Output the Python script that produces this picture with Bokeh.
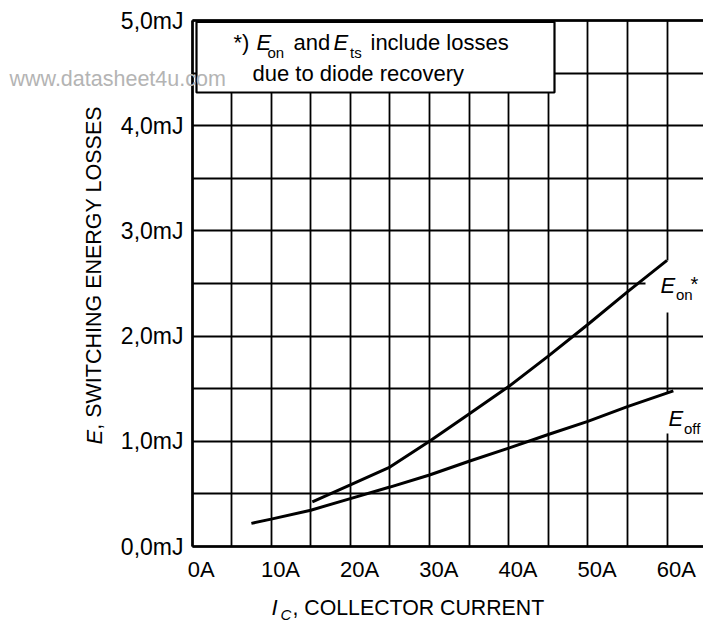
from math import pi
from bokeh.plotting import figure
from bokeh.models import Range1d, FixedTicker, Grid, Label, LabelSet, ColumnDataSource
from bokeh.core.properties import value
from bokeh.embed import file_html
from bokeh.resources import INLINE

# ---------------- data ----------------
X_TICKS = [0, 10, 20, 30, 40, 50, 60]
X_LABELS = ["0A", "10A", "20A", "30A", "40A", "50A", "60A"]
X_GRID = [0, 5, 10, 15, 20, 25, 30, 35, 40, 45, 50, 55, 60]
Y_TICKS = [0, 1, 2, 3, 4, 5]
Y_LABELS = ["0,0mJ", "1,0mJ", "2,0mJ", "3,0mJ", "4,0mJ", "5,0mJ"]
Y_GRID = [0, 0.5, 1, 1.5, 2, 2.5, 3, 3.5, 4, 4.5, 5]

EOFF_I = [7.5, 10, 15, 20, 25, 30, 35, 40, 45, 50, 55, 60.8]
EOFF_E = [0.22, 0.26, 0.345, 0.455, 0.565, 0.68, 0.81, 0.935, 1.065, 1.19, 1.33, 1.48]
EON_I = [15.2, 20, 25, 30, 35, 40, 45, 50, 55, 60]
EON_E = [0.425, 0.585, 0.755, 1.0, 1.26, 1.52, 1.81, 2.11, 2.42, 2.72]

# ---------------- layout ----------------
FONT = "Liberation Sans"
W, H = 703, 623
PX0, PX60 = 191.5, 666.5      # page x of 0 A and 60 A
PY0, PY5 = 546.0, 20.0        # page y of 0 mJ and 5 mJ
SX = (PX60 - PX0) / 60.0
SY = (PY0 - PY5) / 5.0
XS, XE = -PX0 / SX, (W - PX0) / SX
YS, YE = -(H - PY0) / SY, 5.0 + PY5 / SY
MID = 0.358                   # cap-centre height above baseline, in em


def X(px):
    return (px - PX0) / SX


def Y(py):
    return (PY0 - py) / SY


p = figure(width=W, height=H, x_range=Range1d(XS, XE), y_range=Range1d(YS, YE),
           x_axis_location=None, y_axis_location=None,
           output_backend="svg", toolbar_location=None,
           min_border_left=0, min_border_right=0, min_border_top=0, min_border_bottom=0)
p.outline_line_color = None
p.background_fill_color = "white"
p.border_fill_color = "white"
for g in p.grid:
    g.visible = False


def add_grid(dim, ticks, cross, width):
    p.add_layout(Grid(dimension=dim, ticker=FixedTicker(ticks=ticks), cross_bounds=cross,
                      grid_line_color="black", grid_line_width=width, grid_line_alpha=1.0))


# grid lines
add_grid(0, X_GRID, (0, 5), 1.8)
add_grid(1, Y_GRID, (0, XE), 1.8)
# frame borders (left, bottom, top)
add_grid(0, [0], (0, 5), 2.6)
add_grid(1, [0, 5], (0, XE), 2.6)

# tick labels
xsrc = ColumnDataSource(dict(x=X_TICKS, y=[0] * len(X_TICKS), text=X_LABELS))
p.add_layout(LabelSet(x="x", y="y", text="text", source=xsrc, x_offset=9.3,
                      y_offset=-(577 - MID * 22 - PY0),
                      text_align="center", text_baseline="middle",
                      text_font=value(FONT), text_font_size=value("22px"), text_color="black"))
ysrc = ColumnDataSource(dict(x=[0] * len(Y_TICKS), y=Y_TICKS, text=Y_LABELS))
p.add_layout(LabelSet(x="x", y="y", text="text", source=ysrc, x_offset=-8.5, y_offset=0,
                      text_align="right", text_baseline="middle",
                      text_font=value(FONT), text_font_size=value("23px"), text_color="black"))

# white boxes (note box and behind curve labels)
p.quad(left=[X(196)], right=[X(554)], top=[Y(21.5)], bottom=[Y(92)],
       fill_color="white", line_color="black", line_width=2.2)
p.quad(left=[X(645), X(650)], right=[XE, XE], top=[Y(260), Y(392)], bottom=[Y(312), Y(433)],
       fill_color="white", line_color=None)

# curves
p.line(EOFF_I, EOFF_E, line_width=3, line_color="black")
p.line(EON_I, EON_E, line_width=3, line_color="black")


def lab(text, px, py, size, italic=False, rotated=False, color="black"):
    """px, py: start of the text on its baseline, in page pixels."""
    if rotated:
        x, y, ang = X(px - MID * size), Y(py), pi / 2
    else:
        x, y, ang = X(px), Y(py - MID * size), 0.0
    p.add_layout(Label(x=x, y=y, text=text, text_font=FONT,
                       text_font_size=f"{size}px",
                       text_font_style="italic" if italic else "normal",
                       text_baseline="middle", text_align="left",
                       angle=ang, text_color=color))


# note box text
lab("*)", 233, 50, 22)
lab("E", 256, 50, 22, italic=True)
lab("on", 267, 57, 15)
lab("and", 293, 50, 22)
lab("E", 333, 50, 22, italic=True)
lab("ts", 349.5, 57, 15)
lab("include losses", 370, 50, 22)
lab("due to diode recovery", 252, 81, 22)

# curve labels
lab("E", 660, 293, 22, italic=True)
lab("on", 675.5, 299.5, 15)
lab("*", 690, 291, 20)
lab("E", 668, 426, 22, italic=True)
lab("off", 683.5, 433, 15)

# x axis title
lab("I", 271, 615, 22, italic=True)
lab("C", 280, 619, 15, italic=True)
lab(", COLLECTOR CURRENT", 292, 615, 21.3)

# y axis title (rotated)
lab("E", 101.5, 444, 22, italic=True, rotated=True)
lab(", SWITCHING ENERGY LOSSES", 101.5, 429.3, 21.5, rotated=True)

# watermark
lab("www.datasheet4u.com", 9, 86, 21.5, color="#b4b4b4")

open("out.html", "w").write(file_html(p, INLINE))
